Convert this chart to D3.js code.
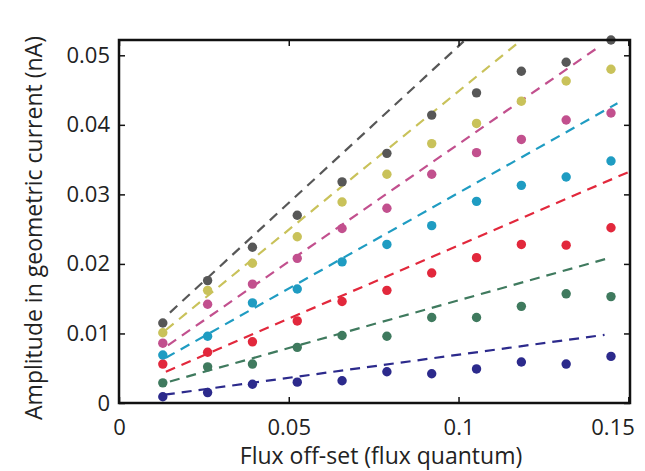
<!DOCTYPE html>
<html>
<head>
<meta charset="utf-8">
<script src="https://cdn.jsdelivr.net/npm/d3@7"></script>
<style>
  body { margin: 0; background: #fff; }
  text { font-family: "Open Sans", sans-serif; fill: #222; }
</style>
</head>
<body>
<svg width="645" height="471"></svg>
<script>
// flux off-set (flux quantum)
const fluxOffsets = [0.0129, 0.0261, 0.0393, 0.0525, 0.0657, 0.0789, 0.0921, 0.1053, 0.1185, 0.1317, 0.1449];

const seriesNames = ["navy", "green", "red", "cyan", "magenta", "yellow", "gray"];
const seriesColors = ["#2c2a8c", "#3f7a5e", "#e2283c", "#1f9cc2", "#c2508e", "#c9c25a", "#575757"];

const navyVals    = [0.0009, 0.0015, 0.0027, 0.0030, 0.0032, 0.0045, 0.0042, 0.0049, 0.0059, 0.0056, 0.0067];
const greenVals   = [0.0029, 0.0052, 0.0056, 0.0080, 0.0097, 0.0096, 0.0123, 0.0123, 0.0139, 0.0157, 0.0153];
const redVals     = [0.0056, 0.0073, 0.0088, 0.0118, 0.0146, 0.0162, 0.0187, 0.0209, 0.0228, 0.0227, 0.0252];
const cyanVals    = [0.0069, 0.0096, 0.0144, 0.0164, 0.0203, 0.0228, 0.0255, 0.0290, 0.0313, 0.0325, 0.0348];
const magentaVals = [0.0086, 0.0142, 0.0171, 0.0208, 0.0251, 0.0280, 0.0329, 0.0360, 0.0379, 0.0407, 0.0417];
const yellowVals  = [0.0101, 0.0162, 0.0201, 0.0239, 0.0289, 0.0329, 0.0373, 0.0402, 0.0434, 0.0463, 0.0480];
const grayVals    = [0.0115, 0.0176, 0.0224, 0.0270, 0.0318, 0.0359, 0.0414, 0.0446, 0.0477, 0.0490, 0.0522];
const seriesVals = [navyVals, greenVals, redVals, cyanVals, magentaVals, yellowVals, grayVals];

// dashed fit lines, read as start / end points
const fitStartX = [0.0135, 0.0150, 0.0138, 0.0138, 0.0144, 0.0138, 0.0150];
const fitStartY = [0.0012, 0.0031, 0.0045, 0.0065, 0.0083, 0.0105, 0.0130];
const fitEndX   = [0.1430, 0.1440, 0.1500, 0.1468, 0.1410, 0.1180, 0.1015];
const fitEndY   = [0.0098, 0.0208, 0.0332, 0.0431, 0.0511, 0.0520, 0.0520];

const xTicks = [0, 0.05, 0.1, 0.15];
const yTicks = [0, 0.01, 0.02, 0.03, 0.04, 0.05];

const svg = d3.select("svg"),
  margin = { top: 40, right: 15, bottom: 68, left: 119 },
  width = +svg.attr("width") - margin.left - margin.right,
  height = +svg.attr("height") - margin.top - margin.bottom,
  x = d3.scaleLinear().domain([0, 0.1505]).range([0, width]),
  y = d3.scaleLinear().domain([0, 0.0522]).range([height, 0]),
  g = svg.append("g").attr("transform", `translate(${margin.left},${margin.top})`);

g.append("clipPath").attr("id", "clip")
  .append("rect").attr("width", width).attr("height", height);

const fmt = (d) => (d === 0 ? "0" : String(+d.toFixed(3)));

// fit lines
g.append("g").attr("clip-path", "url(#clip)")
  .selectAll("line")
  .data(seriesNames.map((n, i) => i))
  .enter()
  .append("line")
  .attr("x1", (i) => x(fitStartX[i]))
  .attr("y1", (i) => y(fitStartY[i]))
  .attr("x2", (i) => x(fitEndX[i]))
  .attr("y2", (i) => y(fitEndY[i]))
  .attr("stroke", (i) => seriesColors[i])
  .attr("stroke-width", 2.2)
  .attr("stroke-dasharray", "10,7");

// points
seriesVals.forEach((vals, i) => {
  g.append("g")
    .selectAll("circle")
    .data(vals)
    .enter()
    .append("circle")
    .attr("cx", (d, j) => x(fluxOffsets[j]))
    .attr("cy", (d) => y(d))
    .attr("r", 4.7)
    .attr("fill", seriesColors[i]);
});

// axes (inward ticks on all sides)
const tick = 6;
const xAxis = g.append("g")
  .attr("class", "axis axis-x")
  .attr("transform", `translate(0,${height})`)
  .call(d3.axisBottom(x).tickValues(xTicks).tickSize(-tick).tickPadding(16).tickFormat(fmt));
g.append("g")
  .attr("class", "axis axis-top")
  .call(d3.axisTop(x).tickValues(xTicks).tickSize(-tick).tickFormat(""));
g.append("g")
  .attr("class", "axis axis-y")
  .call(d3.axisLeft(y).tickValues(yTicks).tickSize(-tick).tickPadding(9).tickFormat(fmt));
g.append("g")
  .attr("class", "axis axis-right")
  .attr("transform", `translate(${width},0)`)
  .call(d3.axisRight(y).tickValues(yTicks).tickSize(-tick).tickFormat(""));

g.selectAll(".axis .domain").remove();
g.selectAll(".axis line").attr("stroke", "#111").attr("stroke-width", 1.5);
g.selectAll(".axis text").style("font-size", "22px").attr("fill", "#222");

// keep the last x label inside the page, as in the reference
xAxis.selectAll(".tick text")
  .filter((d) => d === 0.15)
  .attr("text-anchor", "end")
  .attr("dx", "6");

g.append("rect")
  .attr("width", width)
  .attr("height", height)
  .attr("fill", "none")
  .attr("stroke", "#111")
  .attr("stroke-width", 2.5);

svg.append("text")
  .attr("x", 381)
  .attr("y", 464)
  .attr("text-anchor", "middle")
  .style("font-size", "23px")
  .text("Flux off-set (flux quantum)");

svg.append("text")
  .attr("transform", `translate(42,228) rotate(-90)`)
  .attr("text-anchor", "middle")
  .style("font-size", "23px")
  .text("Amplitude in geometric current (nA)");
</script>
</body>
</html>
